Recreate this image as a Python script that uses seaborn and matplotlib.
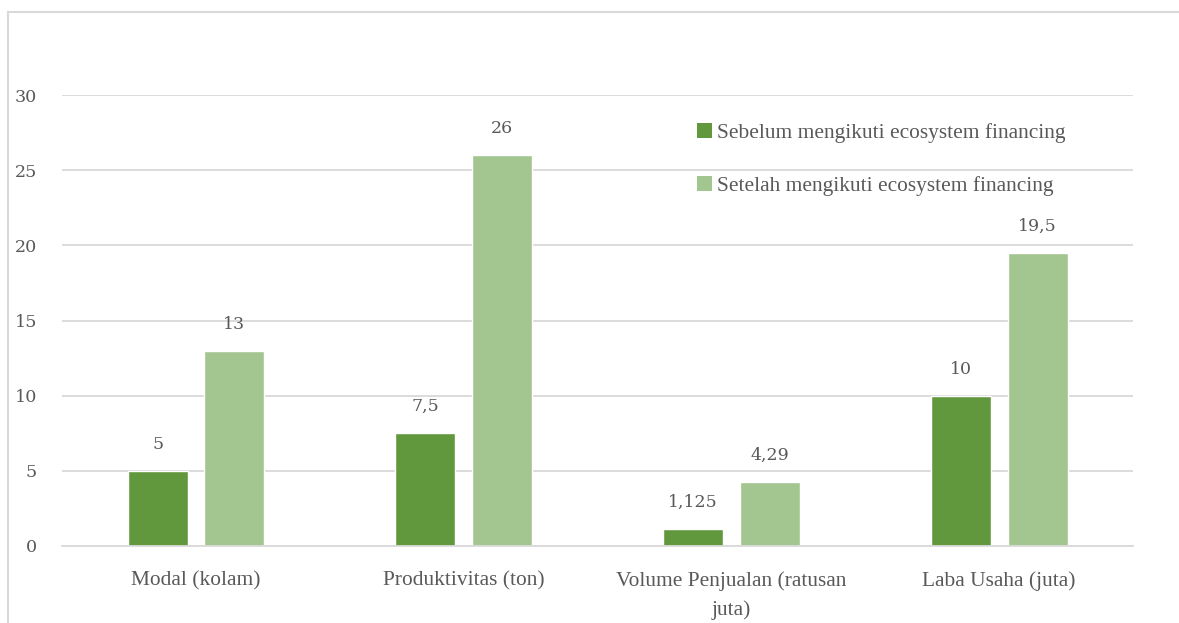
import matplotlib
matplotlib.use("Agg")
import matplotlib.pyplot as plt
import seaborn as sns
import pandas as pd
from matplotlib.patches import Patch
from matplotlib.lines import Line2D

categories = ["Modal (kolam)", "Produktivitas (ton)", "Volume Penjualan (ratusan\njuta)", "Laba Usaha (juta)"]
series_names = ["Sebelum mengikuti ecosystem financing", "Setelah mengikuti ecosystem financing"]
sebelum = [5, 7.5, 1.125, 10]
setelah = [13, 26, 4.29, 19.5]
value_labels_sebelum = ["5", "7,5", "1,125", "10"]
value_labels_setelah = ["13", "26", "4,29", "19,5"]
y_ticks = [0, 5, 10, 15, 20, 25, 30]

colors = ["#62983d", "#a3c590"]
text_color = "#595959"
grid_color = "#d9d9d9"

df = pd.DataFrame({
    "kategori": categories * 2,
    "nilai": sebelum + setelah,
    "seri": [series_names[0]] * 4 + [series_names[1]] * 4,
    "label": value_labels_sebelum + value_labels_setelah,
})

sns.set_theme(style="white")
plt.rcParams["font.family"] = ["Liberation Serif", "DejaVu Serif"]

fig = plt.figure(figsize=(11.79, 6.23), dpi=100)
ax = fig.add_axes([0.0526, 0.1236, 0.9085, 0.7239])

sns.barplot(data=df, x="kategori", y="nilai", hue="seri", order=categories,
            hue_order=series_names, palette=colors, width=0.572, gap=0.217,
            saturation=1, ax=ax, legend=False, errorbar=None)

# value labels above each bar
for container, labels in zip(ax.containers, [value_labels_sebelum, value_labels_setelah]):
    ax.bar_label(container, labels=labels, padding=13, fontsize=12.5,
                 color=text_color, family="DejaVu Serif")

ax.set_ylim(0, 30)
ax.set_xlim(-0.5, 3.5)
ax.set_yticks(y_ticks)
ax.set_yticklabels([str(t) for t in y_ticks], family="DejaVu Serif", fontsize=12.6,
                   color=text_color)
ax.yaxis.grid(True, color=grid_color, linewidth=1.3)
ax.set_axisbelow(True)
ax.set_xlabel("")
ax.set_ylabel("")
for s in ["top", "right", "left"]:
    ax.spines[s].set_visible(False)
ax.spines["bottom"].set_color(grid_color)
ax.spines["bottom"].set_linewidth(1.3)
ax.tick_params(axis="y", length=0, pad=18)
ax.tick_params(axis="x", length=0, pad=18, labelsize=15.4, labelcolor=text_color)

# category separator ticks below the axis line
ax.set_xticks([-0.5, 0.5, 1.5, 2.5, 3.5], minor=True)
ax.tick_params(axis="x", which="minor", length=7, width=1.3, color=grid_color,
               direction="out")
for lbl in ax.get_xticklabels():
    lbl.set_linespacing(1.68)

handles = [Patch(facecolor=c, edgecolor="none") for c in colors]
fig.legend(handles, series_names, loc="upper left", bbox_to_anchor=(0.5745, 0.834),
           frameon=False, fontsize=15.4, labelcolor=text_color, handlelength=0.7,
           handleheight=0.7, handletextpad=0.25, labelspacing=1.56)

# chart frame
fig.add_artist(Line2D([0.0068, 0.0068], [0.0, 0.981], transform=fig.transFigure,
                      color=grid_color, linewidth=1.5))
fig.add_artist(Line2D([0.0068, 1.0], [0.981, 0.981], transform=fig.transFigure,
                      color=grid_color, linewidth=1.5))

fig.savefig("out.png", dpi=100)
